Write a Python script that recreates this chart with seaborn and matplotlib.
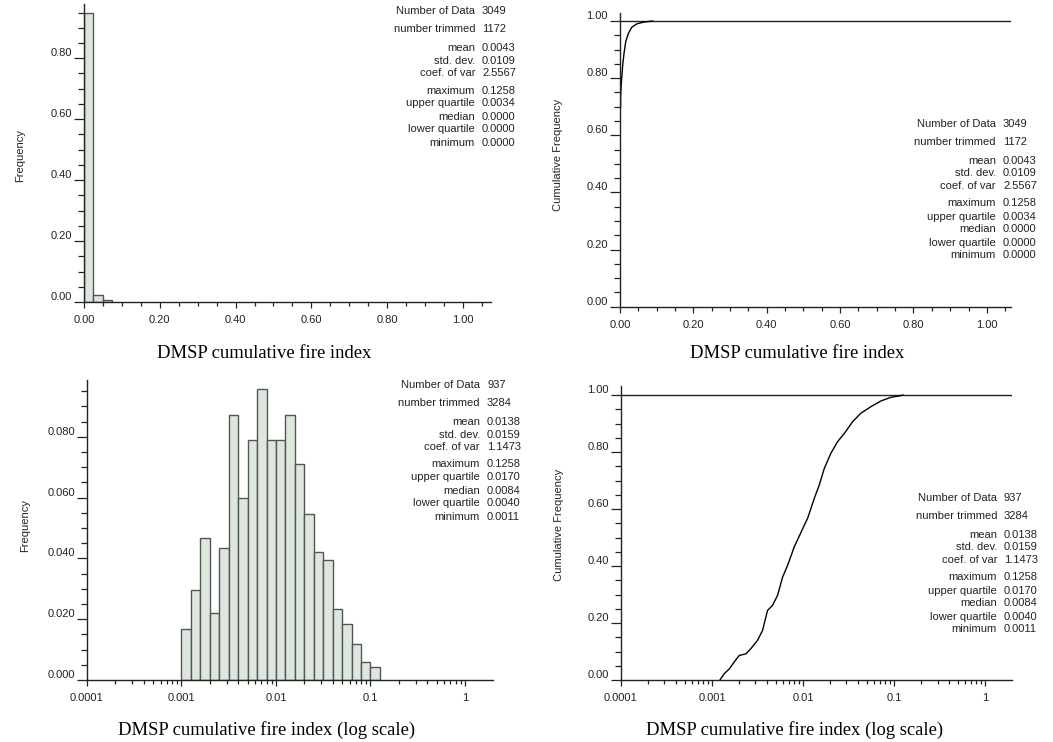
import numpy as np
import pandas as pd
import matplotlib
matplotlib.use("Agg")
import matplotlib.pyplot as plt
import seaborn as sns
from matplotlib.ticker import MultipleLocator, LogLocator, NullFormatter

# ------------------------------------------------------------------ data
stat_labels = ["Number of Data", "number trimmed", "mean", "std. dev.", "coef. of var",
               "maximum", "upper quartile", "median", "lower quartile", "minimum"]
stats_linear = ["3049", "1172", "0.0043", "0.0109", "2.5567",
                "0.1258", "0.0034", "0.0000", "0.0000", "0.0000"]
stats_log = ["937", "3284", "0.0138", "0.0159", "1.1473",
             "0.1258", "0.0170", "0.0084", "0.0040", "0.0011"]

# linear histogram (bin width 0.025 starting at 0)
lin_bin_width = 0.025
lin_freq = [0.950, 0.024, 0.005]

# log histogram (bins of 0.1 decade starting at 10^-3)
log_bin_start = -3.0
log_bin_width = 0.1
log_freq = [0.0167, 0.0296, 0.0466, 0.0219, 0.0435, 0.0871, 0.0599, 0.0791,
            0.0959, 0.0791, 0.0791, 0.0871, 0.0710, 0.0545, 0.0422, 0.0395,
            0.0232, 0.0183, 0.0118, 0.0060, 0.0044]

# cumulative curves
cdf_lin_x = [0.0015, 0.0018, 0.0028, 0.0046, 0.0074, 0.0110, 0.0157, 0.0230,
             0.0320, 0.0460, 0.0645, 0.0900]
cdf_lin_y = [0.694, 0.735, 0.764, 0.800, 0.846, 0.887, 0.928, 0.957,
             0.978, 0.990, 0.996, 1.000]

cdf_log_x = [0.00122, 0.00136, 0.00155, 0.00175, 0.00199, 0.00236, 0.00267,
             0.00316, 0.00359, 0.00407, 0.00462, 0.00525, 0.00596, 0.00676,
             0.00800, 0.00946, 0.01074, 0.01122, 0.01327, 0.01507, 0.01710,
             0.02018, 0.02393, 0.02838, 0.03499, 0.04315, 0.05559, 0.07161,
             0.09226, 0.1150, 0.1258]
cdf_log_y = [0.0, 0.022, 0.039, 0.063, 0.086, 0.092, 0.110, 0.139, 0.174,
             0.244, 0.262, 0.297, 0.361, 0.402, 0.467, 0.517, 0.555, 0.567,
             0.637, 0.684, 0.742, 0.795, 0.836, 0.865, 0.906, 0.936, 0.959,
             0.979, 0.992, 0.997, 1.0]

lin_xticks = [0.0, 0.2, 0.4, 0.6, 0.8, 1.0]
lin_xticklabels = ["0.00", "0.20", "0.40", "0.60", "0.80", "1.00"]
log_xticks = [0.0001, 0.001, 0.01, 0.1, 1]
log_xticklabels = ["0.0001", "0.001", "0.01", "0.1", "1"]
tl_yticks = [0.0, 0.2, 0.4, 0.6, 0.8]
tl_yticklabels = ["0.00", "0.20", "0.40", "0.60", "0.80"]
bl_yticks = [0.0, 0.02, 0.04, 0.06, 0.08]
bl_yticklabels = ["0.000", "0.020", "0.040", "0.060", "0.080"]
cdf_yticks = [0.0, 0.2, 0.4, 0.6, 0.8, 1.0]
cdf_yticklabels = ["0.00", "0.20", "0.40", "0.60", "0.80", "1.00"]

caption_lin = "DMSP cumulative fire index"
caption_log = "DMSP cumulative fire index (log scale)"

# ------------------------------------------------------------------ style
sns.set_style("white")
plt.rcParams["font.family"] = ["Liberation Sans", "DejaVu Sans"]
plt.rcParams["font.size"] = 8

W, H = 1053, 742
fig = plt.figure(figsize=(W / 100, H / 100), dpi=100)


def px_axes(x0, y0, x1, y1):
    return fig.add_axes([x0 / W, 1 - y1 / H, (x1 - x0) / W, (y1 - y0) / H])


BAR_FILL = "#dde7dd"
BAR_EDGE = "#555555"
AX_COL = "#222222"
TXT_COL = "#222222"
SERIF = ["Liberation Serif", "DejaVu Serif"]


def style_axes(ax, yticks, ylabels, yminor):
    for s in ["top", "right"]:
        ax.spines[s].set_visible(False)
    for s in ["left", "bottom"]:
        ax.spines[s].set_color(AX_COL)
        ax.spines[s].set_linewidth(1.0)
    ax.set_yticks(yticks, ylabels)
    ax.yaxis.set_minor_locator(MultipleLocator(yminor))
    ax.tick_params(axis="y", which="major", direction="out", length=7.5, width=0.9,
                   color=AX_COL, pad=1.2, labelsize=8, labelcolor=TXT_COL)
    ax.tick_params(axis="y", which="minor", direction="out", length=4, width=0.9,
                   color=AX_COL)
    ax.tick_params(axis="x", which="major", direction="out", length=4, width=0.9,
                   color=AX_COL, pad=5.5, labelsize=8, labelcolor=TXT_COL)
    ax.tick_params(axis="x", which="minor", direction="out", length=3, width=0.9,
                   color=AX_COL)
    ax.tick_params(left=True, bottom=True, which="both")
    for t in ax.yaxis.get_major_ticks():
        t.label1.set_verticalalignment("bottom")
    ax.set_facecolor("white")
    ax.set_xlabel("")
    ax.set_ylabel("")


def stats_block(x_right, y_top, values):
    offsets = [0, 18, 37, 49.5, 62, 79.5, 92.5, 105.5, 118.5, 131.5]
    for lab, val, off in zip(stat_labels, values, offsets):
        y = 1 - (y_top + off) / H
        fig.text(x_right / W, y, lab, ha="right", va="center", fontsize=8, color=TXT_COL)
        fig.text((x_right + 7) / W, y, val, ha="left", va="center", fontsize=8, color=TXT_COL)


# ---------------- top left : linear histogram
ax1 = px_axes(84, 4, 491, 302)
lin_edges = np.arange(len(lin_freq) + 1) * lin_bin_width
lin_df = pd.DataFrame({"x": (lin_edges[:-1] + lin_edges[1:]) / 2, "w": lin_freq})
sns.histplot(data=lin_df, x="x", weights="w", binwidth=lin_bin_width,
             binrange=(0.0, lin_bin_width * len(lin_freq)), ax=ax1,
             color=BAR_FILL, edgecolor=BAR_EDGE, linewidth=1.0, alpha=1)
ax1.set_xlim(0, 1.074)
ax1.set_ylim(0, 0.978)
ax1.set_xticks(lin_xticks, lin_xticklabels)
ax1.xaxis.set_minor_locator(MultipleLocator(0.05))
style_axes(ax1, tl_yticks, tl_yticklabels, 0.05)
fig.text(20 / W, 1 - 155 / H, "Frequency", rotation=90, ha="center", va="center",
         fontsize=8, color=TXT_COL)
stats_block(475, 11, stats_linear)
fig.text(264.5 / W, 1 - 353 / H, caption_lin, ha="center", va="center",
         fontsize=13.4, family=SERIF, color="black")

# ---------------- top right : linear cumulative
ax2 = px_axes(620, 12.7, 1010.7, 306.7)
ax2.axhline(1.0, color=AX_COL, lw=1.0)
sns.lineplot(x=cdf_lin_x, y=cdf_lin_y, ax=ax2, color="black", lw=1.0,
             estimator=None, sort=False)
ax2.set_xlim(0, 1.065)
ax2.set_ylim(0, 1.029)
ax2.set_xticks(lin_xticks, lin_xticklabels)
ax2.xaxis.set_minor_locator(MultipleLocator(0.05))
style_axes(ax2, cdf_yticks, cdf_yticklabels, 0.05)
fig.text(558 / W, 1 - 155 / H, "Cumulative Frequency", rotation=90, ha="center",
         va="center", fontsize=8, color=TXT_COL)
stats_block(996, 124, stats_linear)
fig.text(797 / W, 1 - 353 / H, caption_lin, ha="center", va="center",
         fontsize=13.4, family=SERIF, color="black")

# ---------------- bottom left : log histogram
ax3 = px_axes(87, 380, 493, 680)
log_df = pd.DataFrame({
    "x": 10 ** (log_bin_start + log_bin_width * (np.arange(len(log_freq)) + 0.5)),
    "w": log_freq})
sns.histplot(data=log_df, x="x", weights="w", log_scale=True,
             binwidth=log_bin_width,
             binrange=(log_bin_start, log_bin_start + log_bin_width * len(log_freq)),
             ax=ax3, color=BAR_FILL, edgecolor=BAR_EDGE, linewidth=1.0, alpha=1)
ax3.set_xlim(0.0001, 1.98)
ax3.set_ylim(0, 0.0987)
ax3.set_xticks(log_xticks, log_xticklabels)
ax3.xaxis.set_minor_locator(LogLocator(base=10, subs=np.arange(2, 10)))
ax3.xaxis.set_minor_formatter(NullFormatter())
style_axes(ax3, bl_yticks, bl_yticklabels, 0.005)
fig.text(25 / W, 1 - 525 / H, "Frequency", rotation=90, ha="center", va="center",
         fontsize=8, color=TXT_COL)
stats_block(480, 385, stats_log)
fig.text(267 / W, 1 - 730 / H, caption_log, ha="center", va="center",
         fontsize=13.4, family=SERIF, color="black")

# ---------------- bottom right : log cumulative
ax4 = px_axes(621, 386, 1011.7, 680)
ax4.set_xscale("log")
ax4.axhline(1.0, color=AX_COL, lw=1.0)
sns.lineplot(x=cdf_log_x, y=cdf_log_y, ax=ax4, color="black", lw=1.0,
             estimator=None, sort=False)
ax4.set_xlim(0.0001, 1.96)
ax4.set_ylim(0, 1.0316)
ax4.set_xticks(log_xticks, log_xticklabels)
ax4.xaxis.set_minor_locator(LogLocator(base=10, subs=np.arange(2, 10)))
ax4.xaxis.set_minor_formatter(NullFormatter())
style_axes(ax4, cdf_yticks, cdf_yticklabels, 0.05)
fig.text(559 / W, 1 - 525 / H, "Cumulative Frequency", rotation=90, ha="center",
         va="center", fontsize=8, color=TXT_COL)
stats_block(997, 498, stats_log)
fig.text(795 / W, 1 - 730 / H, caption_log, ha="center", va="center",
         fontsize=13.4, family=SERIF, color="black")

fig.savefig("out.png", dpi=100)
